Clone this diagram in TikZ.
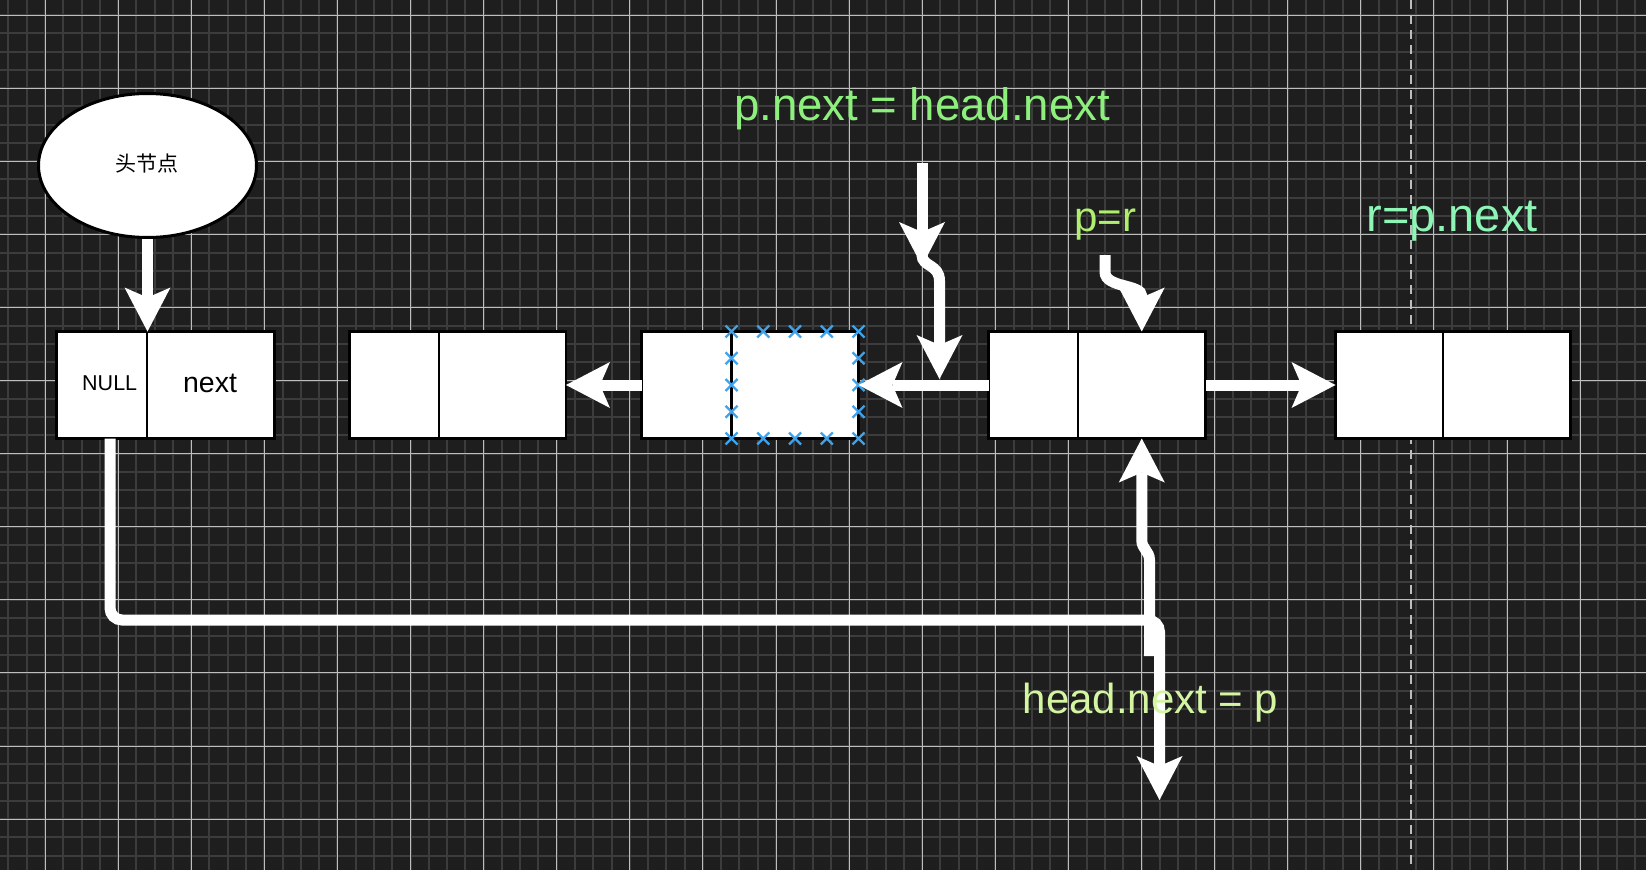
\documentclass[tikz,border=0pt]{standalone}
\usepackage{fontspec}
\setmainfont{Liberation Sans}
\newfontfamily\cjk{Noto Sans CJK SC}
\usetikzlibrary{arrows.meta,shapes.geometric}
\definecolor{bg}{HTML}{1E1E1E}
\definecolor{gminor}{HTML}{3C3C3C}
\definecolor{gmajor}{HTML}{BEBEBE}
\definecolor{dashc}{HTML}{BDBDBD}
\definecolor{selblue}{HTML}{3FA3EC}
\definecolor{pgreen}{HTML}{8DF07D}
\definecolor{prgreen}{HTML}{B0EE70}
\definecolor{rgreen}{HTML}{8EF5B6}
\definecolor{hgreen}{HTML}{D4F6A2}
\tikzset{
  minorline/.style={draw=gminor, line width=2pt},
  majorline/.style={draw=gmajor, line width=1pt},
  cell/.style={draw=black, fill=white, line width=2.8pt, inner sep=0pt, outer sep=0pt, minimum height=107pt},
  shaft/.style={draw=white, line width=11pt, line cap=butt,
    -{Stealth[length=44pt,width=46pt,inset=10pt,line width=0pt]}},
  lbl/.style={inner sep=0pt, anchor=base},
  selx/.style={draw=selblue, line width=2.2pt}
}
\begin{document}
\begin{tikzpicture}[x=1pt,y=-1pt]
\useasboundingbox (0,0) rectangle (1646,870);
\fill[bg] (0,0) rectangle (1646,870);
% grid
\foreach \i in {0,...,89} \draw[minorline] ({8.45+\i*18.275},0) -- ++(0,870);
\foreach \j in {0,...,46} \draw[minorline] (0,{15+\j*18.275}) -- ++(1646,0);
\foreach \i in {0,...,21} \draw[majorline] ({45+\i*73.1},0) -- ++(0,870);
\foreach \j in {0,...,11} \draw[majorline] (0,{15+\j*73.1}) -- ++(1646,0);
% dashed guide
\coordinate (dtop) at (1410.5,0);
\coordinate (dbot) at (1410.5,870);
\draw[dashc, line width=2pt, dash pattern=on 9pt off 6pt] (dtop) -- (dbot);

% head ellipse
\node[ellipse, draw=black, fill=white, line width=3pt, inner sep=0pt,
      minimum width=218pt, minimum height=144pt] (ell) at (147.5,165.5) {};
\node[inner sep=0pt, font=\cjk\fontsize{21}{24}\selectfont] (elltxt) at (146.5,164) {头节点};

% boxes
\node[cell, minimum width=90.5pt]  (b1l) at (101.75,385) {};
\node[cell, minimum width=127.5pt] (b1r) at (210.75,385) {};
\node[cell, minimum width=89.5pt]  (b2l) at (394.25,385) {};
\node[cell, minimum width=127pt]   (b2r) at (502.5,385) {};
\node[cell, minimum width=90pt]    (b3l) at (686.5,385) {};
\node[cell, minimum width=127pt]   (b3r) at (795,385) {};
\node[cell, minimum width=89.5pt]  (b4l) at (1033.25,385) {};
\node[cell, minimum width=127.5pt] (b4r) at (1141.75,385) {};
\node[cell, minimum width=107.5pt] (b5l) at (1389.25,385) {};
\node[cell, minimum width=127.5pt] (b5r) at (1506.75,385) {};
\node[lbl, font=\fontsize{21.5}{24}\selectfont] (nulltxt) at (109.7,390.7) {NULL};
\node[lbl, font=\fontsize{28.5}{32}\selectfont] (nexttxt) at (210,392.7) {next};

% selection markers on b3r
\foreach \x in {731.5,763.25,795,826.75,858.5} {
  \draw[selx] (\x-6,331.5-6) -- (\x+6,331.5+6) (\x-6,331.5+6) -- (\x+6,331.5-6);
  \draw[selx] (\x-6,438.5-6) -- (\x+6,438.5+6) (\x-6,438.5+6) -- (\x+6,438.5-6);
}
\foreach \x in {731.5,858.5} \foreach \y in {358.25,385,411.75} {
  \draw[selx] (\x-6,\y-6) -- (\x+6,\y+6) (\x-6,\y+6) -- (\x+6,\y-6);
}

% connectors between nodes
\draw[shaft] (ell.south) -- (ell.south |- b1l.north);
\draw[shaft] (b3l.west) -- (b2r.east);
\draw[shaft] (b4l.west) -- (b3r.east);
\draw[shaft] (b4r.east) -- (b5l.west);

% p.next = head.next
\coordinate (pa) at (922,163);
\coordinate (pb) at (922,266);
\coordinate (pc) at (922,255);
\coordinate (pd) at (939.5,379);
\draw[shaft] (pa) -- (pb);
\draw[shaft] (pc) .. controls (922,267) and (939.5,264) .. (939.5,281) -- (pd);

% p=r
\coordinate (ra) at (1105,255);
\draw[shaft] (ra) -- (1105,272) .. controls (1105,288) and (1141.75,284) .. (1141.75,296) -- (b4r.north);

% head.next = p (up arrow)
\coordinate (ha) at (1149.5,656);
\draw[shaft] (ha) -- (1149.5,560) .. controls (1149.5,551) and (1141.75,549) .. (1141.75,540) -- (b4r.south);

% NULL line from head node to bottom arrow
\coordinate (yc1) at (110,620);
\coordinate (yend) at (1159.5,800);
\draw[shaft, rounded corners=12pt] ([xshift=8.25pt]b1l.south) -- (yc1) -- (yc1 -| yend) -- (yend);

% labels
\node[lbl, text=pgreen, font=\fontsize{45.5}{50}\selectfont] (t1) at (922,120) {p.next = head.next};
\node[lbl, text=prgreen, font=\fontsize{42}{46}\selectfont] (t2) at (1105.5,231.7) {p=r};
\node[lbl, text=rgreen, font=\fontsize{47}{52}\selectfont] (t3) at (1452,231.7) {r=p.next};
\node[lbl, text=hgreen, font=\fontsize{42}{46}\selectfont] (t4) at (1150.5,713) {head.next = p};
\end{tikzpicture}
\end{document}
